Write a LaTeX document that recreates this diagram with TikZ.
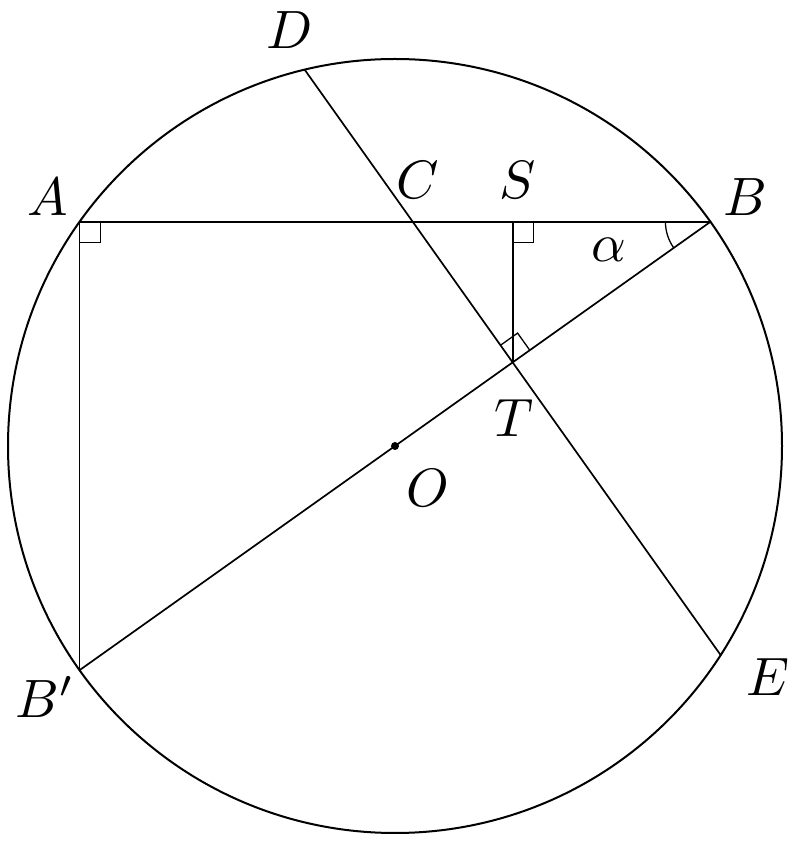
\documentclass[tikz,border=0pt]{standalone}
\usetikzlibrary{calc}
\begin{document}
\begin{tikzpicture}[x=1pt,y=1pt,
  geo/.style={line width=1.7pt, line cap=round, line join=round},
  circ/.style={line width=2pt},
  rmark/.style={line width=1.3pt},
  lbl/.style={inner sep=0pt, scale=5.4}]
\useasboundingbox (0,0) rectangle (798,844);
\def\R{387}
\coordinate (O) at (395,398);
\coordinate (A) at ($(O)+(144.6:\R)$);
\coordinate (B) at ($(O)+(35.4:\R)$);
\coordinate (Bp) at ($(O)+(215.4:\R)$);
\coordinate (D) at ($(O)+(103.5:\R)$);
\coordinate (E) at ($(O)+(-32.7:\R)$);
\coordinate (T) at ($(D)!0.5!(E)$);
\coordinate (S) at (T |- A);
\coordinate (C) at (intersection of D--E and A--B);
% circle
\draw[circ] (O) circle[radius=\R];
% segments
\draw[geo] (A) -- (B);
\draw[geo] (A) -- (Bp);
\draw[geo] (B) -- (Bp);
\draw[geo] (D) -- (E);
\draw[geo] (S) -- (T);
% right-angle marks
\draw[rmark] ($(A)+(21,0)$) -- ++(0,-21) -- ++(-21,0);
\draw[rmark] ($(S)+(21,0)$) -- ++(0,-21) -- ++(-21,0);
\draw[rmark] ($(T)+(35.4:21)$) -- ($(T)+(35.4:21)+(125.4:21)$) -- ($(T)+(125.4:21)$);
% angle alpha
\draw[rmark] ($(B)+(180:45)$) arc[start angle=180, end angle=215.4, radius=45];
% centre dot
\fill (O) circle[radius=4];
% labels
\node[lbl] (lD) at (290,814) {$D$};
\node[lbl] (lA) at (48,647) {$A$};
\node[lbl] (lC) at (418,664) {$C$};
\node[lbl] (lS) at (518,664) {$S$};
\node[lbl] (lB) at (745,647) {$B$};
\node[lbl] (lal) at (609,594) {$\alpha$};
\node[lbl] (lT) at (514,426) {$T$};
\node[lbl] (lO) at (428,356) {$O$};
\node[lbl] (lE) at (768,167) {$E$};
\node[lbl] (lBp) at (45,147) {$B'$};
\end{tikzpicture}
\end{document}
